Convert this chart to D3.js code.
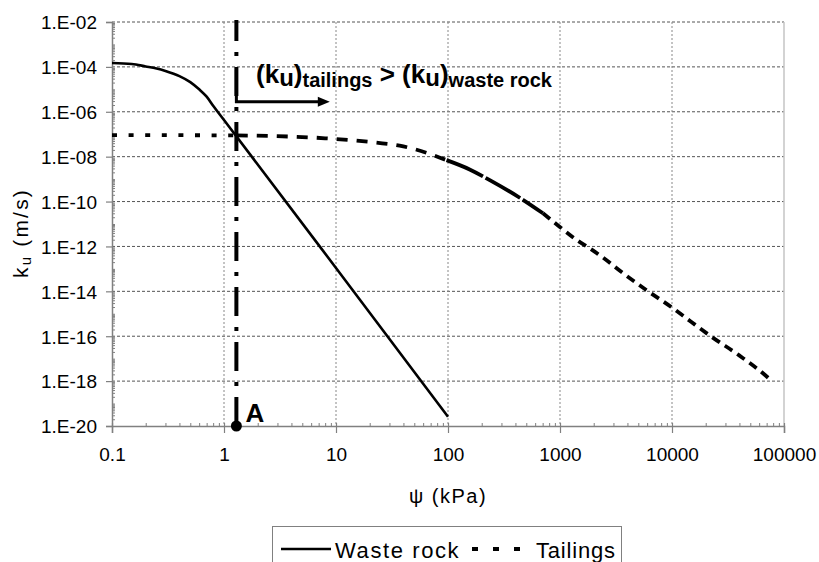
<!DOCTYPE html>
<html>
<head>
<meta charset="utf-8">
<script src="https://cdn.jsdelivr.net/npm/d3@7/dist/d3.min.js"></script>
<style>
  html, body { margin: 0; padding: 0; background: #fff; }
  svg { display: block; font-family: "Liberation Sans", Arial, Helvetica, sans-serif; }
</style>
</head>
<body>
<svg id="chart" width="819" height="562"></svg>
<script>
// Unsaturated hydraulic conductivity curves, k_u versus suction psi

// suction psi (kPa) and k_u (m/s) for the waste rock
const wastePsi = [0.1, 0.15, 0.2, 0.25, 0.3, 0.4, 0.5, 0.6, 0.7, 0.8, 1, 10, 100];
const wasteK   = [1.5e-4, 1.35e-4, 1.05e-4, 8.5e-5, 6.6e-5, 3.9e-5, 2.1e-5, 1.0e-5, 4.7e-6, 1.85e-6, 4.3e-7, 1.1e-13, 2.6e-20];

// suction psi (kPa) and k_u (m/s) for the tailings
const tailPsi = [0.1, 1.3, 8, 23, 37, 64, 97, 156, 236, 467, 705, 991, 1400, 1837, 2588, 3524, 5890, 9840, 14800, 23100, 39800, 74000, 79000];
const tailK   = [9.2e-8, 8.9e-8, 6.6e-8, 4.2e-8, 3.1e-8, 1.5e-8, 7.0e-9, 2.7e-9, 9.0e-10, 1.2e-10, 3.0e-11, 7.6e-12, 2.0e-12, 8.3e-13, 2.5e-13, 7.4e-14, 1.15e-14, 2.0e-15, 4.4e-16, 8.7e-17, 1.4e-17, 1.26e-18, 9.3e-19];

// suction where the two curves cross (point A)
const crossPsi = 1.29;

// axis ticks
const xTickValues = [0.1, 1, 10, 100, 1000, 10000, 100000];
const xTickLabels = ["0.1", "1", "10", "100", "1000", "10000", "100000"];
const yTickValues = [1e-2, 1e-4, 1e-6, 1e-8, 1e-10, 1e-12, 1e-14, 1e-16, 1e-18, 1e-20];
const yTickLabels = ["1.E-02", "1.E-04", "1.E-06", "1.E-08", "1.E-10", "1.E-12", "1.E-14", "1.E-16", "1.E-18", "1.E-20"];

const seriesNames = ["Waste rock", "Tailings"];

const svg = d3.select("#chart");
const plot = { left: 112, right: 784, top: 22, bottom: 426 };

const x = d3.scaleLog().domain([0.1, 1e5]).range([plot.left, plot.right]);
const y = d3.scaleLog().domain([1e-2, 1e-20]).range([plot.top, plot.bottom]);

// minor tick positions: 2..9 within every decade, plus unlabelled decades
function minorTicks(lo, hi) {
  const out = [];
  for (let e = Math.round(Math.log10(lo)); e < Math.round(Math.log10(hi)); e++) {
    for (let m = 1; m <= 9; m++) {
      const v = m * Math.pow(10, e);
      if (m === 1 && yTickValues.includes(v)) continue;
      out.push(v);
    }
  }
  return out;
}

// gridlines
const grid = svg.append("g");
grid.selectAll("line.h").data(yTickValues.slice(0, -1)).join("line")
  .attr("x1", plot.left).attr("x2", plot.right)
  .attr("y1", d => y(d)).attr("y2", d => y(d))
  .attr("stroke", "#555").attr("stroke-width", 1).attr("stroke-dasharray", "3,2");
grid.selectAll("line.v").data(xTickValues.slice(1, -1)).join("line")
  .attr("x1", d => x(d)).attr("x2", d => x(d))
  .attr("y1", plot.top).attr("y2", plot.bottom)
  .attr("stroke", "#888").attr("stroke-width", 1).attr("stroke-dasharray", "2,2");
grid.append("line")
  .attr("x1", plot.right).attr("x2", plot.right)
  .attr("y1", plot.top).attr("y2", plot.bottom)
  .attr("stroke", "#c4c4c4").attr("stroke-width", 1.5);

// minor ticks (inside the plot)
const yMinor = minorTicks(1e-20, 1e-2).filter(v => v > 1e-20 && v < 1e-2);
svg.append("g").attr("transform", `translate(${plot.left},0)`)
  .call(d3.axisRight(y).tickValues(yMinor).tickSize(3).tickFormat(""))
  .call(g => g.select(".domain").remove())
  .call(g => g.selectAll("line").attr("stroke", "#808080"));
const xMinor = [];
for (let e = -1; e < 5; e++) for (let m = 2; m <= 9; m++) xMinor.push(m * Math.pow(10, e));
svg.append("g").attr("transform", `translate(0,${plot.bottom})`)
  .call(d3.axisTop(x).tickValues(xMinor).tickSize(3).tickFormat(""))
  .call(g => g.select(".domain").remove())
  .call(g => g.selectAll("line").attr("stroke", "#808080"));

// major axes
const yAxis = svg.append("g").attr("transform", `translate(${plot.left},0)`)
  .call(d3.axisLeft(y).tickValues(yTickValues).tickSize(6).tickPadding(9)
    .tickFormat((d, i) => yTickLabels[i]));
yAxis.select(".domain").attr("stroke", "#808080").attr("stroke-width", 1.5);
yAxis.selectAll(".tick line").attr("stroke", "#808080").attr("stroke-width", 1.2);
yAxis.selectAll(".tick text").attr("font-size", 19).attr("fill", "#000")
  .attr("font-family", "'Liberation Sans', Arial, sans-serif").attr("dy", "0.36em");

const xAxis = svg.append("g").attr("transform", `translate(0,${plot.bottom})`)
  .call(d3.axisBottom(x).tickValues(xTickValues).tickSize(7).tickPadding(15)
    .tickFormat((d, i) => xTickLabels[i]));
xAxis.select(".domain").attr("stroke", "#808080").attr("stroke-width", 1.5);
xAxis.selectAll(".tick line").attr("stroke", "#808080").attr("stroke-width", 1.2).attr("y1", -3);
xAxis.selectAll(".tick text").attr("font-size", 19).attr("fill", "#000")
  .attr("font-family", "'Liberation Sans', Arial, sans-serif");

// axis titles
svg.append("text")
  .attr("x", x(100)).attr("y", 503).attr("text-anchor", "middle")
  .attr("font-size", 20).attr("letter-spacing", 1.5)
  .text("\u03C8 (kPa)");

const yTitle = svg.append("text")
  .attr("transform", `translate(28,233) rotate(-90)`)
  .attr("text-anchor", "middle").attr("font-size", 21).attr("letter-spacing", 2.2);
yTitle.append("tspan").text("k");
yTitle.append("tspan").attr("font-size", 15).attr("dy", 3).text("u");
yTitle.append("tspan").attr("dy", -3).text(" (m/s)");

// waste rock curve
const waste = wastePsi.map((p, i) => [p, wasteK[i]]);
const line = d3.line().x(d => x(d[0])).y(d => y(d[1])).curve(d3.curveMonotoneX);
svg.append("path").datum(waste)
  .attr("d", line).attr("fill", "none").attr("stroke", "#000").attr("stroke-width", 2.6);

// tailings curve, dash rhythm varies along the curve
const tail = tailPsi.map((p, i) => [p, tailK[i]]);
const tailDashZones = [
  { from: 0.1, to: 1.3, dash: "5,11.6" },
  { from: 1.3, to: 97, dash: "11,9" },
  { from: 97, to: 705, dash: "40,3" },
  { from: 705, to: 79000, dash: "9,6" }
];
tailDashZones.forEach(z => {
  const pts = tail.filter(d => d[0] >= z.from && d[0] <= z.to);
  svg.append("path").datum(pts)
    .attr("d", line).attr("fill", "none").attr("stroke", "#000")
    .attr("stroke-width", 3.8).attr("stroke-dasharray", z.dash);
});

// vertical dash-dot marker at the crossing suction
svg.append("line")
  .attr("x1", x(crossPsi)).attr("x2", x(crossPsi))
  .attr("y1", y(1e-2) - 2).attr("y2", y(1e-20))
  .attr("stroke", "#000").attr("stroke-width", 4)
  .attr("stroke-dasharray", "29,11,4,11").attr("stroke-dashoffset", 8);

// arrow to the right of the marker
const arrowTop = 7.2e-5, arrowY = 2.8e-6, arrowEnd = 8.8;
svg.append("path")
  .attr("d", `M${x(crossPsi)},${y(arrowTop)} V${y(arrowY)} H${x(arrowEnd) - 10}`)
  .attr("fill", "none").attr("stroke", "#000").attr("stroke-width", 3);
svg.append("path")
  .attr("d", `M${x(arrowEnd)},${y(arrowY)} l-12,-5 v10 z`)
  .attr("fill", "#000");

// annotation text
const ann = svg.append("text").attr("x", 256).attr("y", 83)
  .attr("font-weight", "bold").attr("font-size", 26);
ann.append("tspan").text("(k");
ann.append("tspan").attr("font-size", 24).attr("dy", 3).text("u");
ann.append("tspan").attr("dy", -3).text(")");
ann.append("tspan").attr("font-size", 20).attr("dy", 4).text("tailings");
ann.append("tspan").attr("dy", -4).text("\u00A0>\u00A0(k");
ann.append("tspan").attr("font-size", 24).attr("dy", 3).text("u");
ann.append("tspan").attr("dy", -3).text(")");
ann.append("tspan").attr("font-size", 20).attr("dy", 4).text("waste rock");

// point A
svg.append("circle").attr("cx", x(crossPsi)).attr("cy", y(1e-20)).attr("r", 5.5).attr("fill", "#000");
svg.append("text").attr("x", x(crossPsi) + 9).attr("y", 421.5)
  .attr("font-weight", "bold").attr("font-size", 26).text("A");

// legend
const lg = svg.append("g");
lg.append("rect").attr("x", 272.5).attr("y", 526.5).attr("width", 349).attr("height", 45)
  .attr("fill", "#fff").attr("stroke", "#808080").attr("stroke-width", 1);
lg.append("line").attr("x1", 281).attr("x2", 331).attr("y1", 549).attr("y2", 549)
  .attr("stroke", "#000").attr("stroke-width", 2.6);
lg.append("text").attr("x", 335).attr("y", 557.5).attr("font-size", 22).attr("letter-spacing", 1.6)
  .text(seriesNames[0]);
lg.append("line").attr("x1", 472).attr("x2", 520).attr("y1", 549).attr("y2", 549)
  .attr("stroke", "#000").attr("stroke-width", 4).attr("stroke-dasharray", "6,15");
lg.append("text").attr("x", 536).attr("y", 557.5).attr("font-size", 22).attr("letter-spacing", 0.8)
  .text(seriesNames[1]);
</script>
</body>
</html>
